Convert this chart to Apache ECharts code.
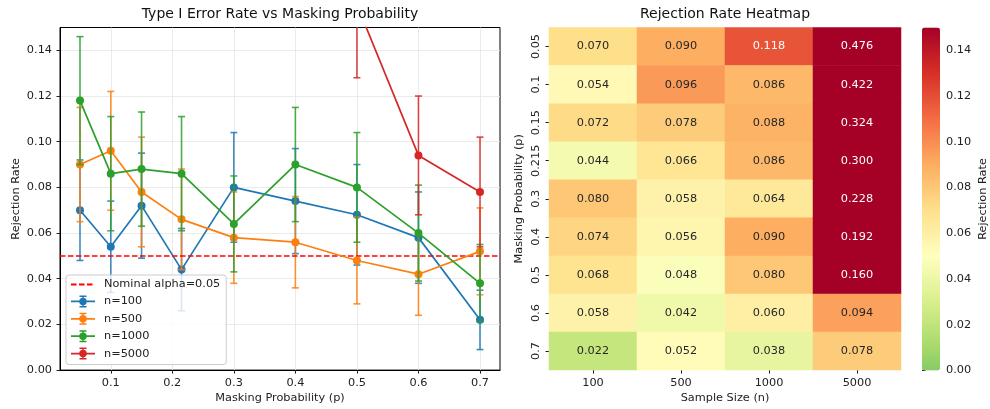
<!DOCTYPE html>
<html>
<head>
<meta charset="utf-8">
<script src="https://cdn.jsdelivr.net/npm/echarts@6/dist/echarts.min.js"></script>
<style>html,body{margin:0;padding:0;background:#fff;}#c{width:990px;height:409px;}</style>
</head>
<body>
<div id="c"></div>
<script>
// ---------------- data ----------------
const pValues = [0.05, 0.1, 0.15, 0.215, 0.3, 0.4, 0.5, 0.6, 0.7];
const pLabels = ['0.05', '0.1', '0.15', '0.215', '0.3', '0.4', '0.5', '0.6', '0.7'];
const sampleSizes = ['100', '500', '1000', '5000'];
const seriesNames = ['n=100', 'n=500', 'n=1000', 'n=5000'];

const rate100  = [0.070, 0.054, 0.072, 0.044, 0.080, 0.074, 0.068, 0.058, 0.022];
const rate500  = [0.090, 0.096, 0.078, 0.066, 0.058, 0.056, 0.048, 0.042, 0.052];
const rate1000 = [0.118, 0.086, 0.088, 0.086, 0.064, 0.090, 0.080, 0.060, 0.038];
const rate5000 = [0.476, 0.422, 0.324, 0.300, 0.228, 0.192, 0.160, 0.094, 0.078];

// error bar half-widths
const err100  = [0.022, 0.020, 0.023, 0.018, 0.024, 0.023, 0.022, 0.020, 0.013];
const err500  = [0.025, 0.026, 0.024, 0.022, 0.020, 0.020, 0.019, 0.018, 0.019];
const err1000 = [0.028, 0.025, 0.025, 0.025, 0.021, 0.025, 0.024, 0.021, 0.017];
const err5000 = [0.044, 0.043, 0.041, 0.040, 0.037, 0.035, 0.032, 0.026, 0.024];

const nominalAlpha = 0.05;
const xTicks = [0.1, 0.2, 0.3, 0.4, 0.5, 0.6, 0.7];
const yTicks = [0, 0.02, 0.04, 0.06, 0.08, 0.10, 0.12, 0.14];
const cbTicks = [0, 0.02, 0.04, 0.06, 0.08, 0.10, 0.12, 0.14];

// ---------------- styling ----------------
const FONT = 'DejaVu Sans';
const FS = 11.3;
const TXT = '#222';
const colors = ['#1f77b4', '#ff7f0e', '#2ca02c', '#d62728'];
const cmap = ['#86cb66', '#a6d96a', '#bfe47a', '#d9ef8b', '#ecf7a5', '#ffffbf', '#feefa5', '#fee08b',
              '#fdc776', '#fdae61', '#f88d52', '#f46d43', '#e54e35', '#d73027', '#be1826', '#a50026'];

const rates = [rate100, rate500, rate1000, rate5000];
const errs = [err100, err500, err1000, err5000];

const errIcon = 'path://M0 5.15H24V6.85H0Z M11.25 0H12.75V12H11.25Z M8.5 0H15.5V1.5H8.5Z M8.5 10.5H15.5V12H8.5Z M8.25 6A3.75 3.75 0 1 1 15.75 6A3.75 3.75 0 1 1 8.25 6Z';

function errRender(params, api) {
  const x = api.value(0), y = api.value(1), e = api.value(2);
  const cs = params.coordSys;
  const top = api.coord([x, y + e]);
  const bot = api.coord([x, y - e]);
  const px = top[0];
  const yTop = cs.y, yBot = cs.y + cs.height;
  const y1 = Math.max(top[1], yTop), y2 = Math.min(bot[1], yBot);
  if (y1 >= y2) return { type: 'group', children: [] };
  const st = { stroke: api.visual('color'), lineWidth: 1.6, opacity: 0.85 };
  const ch = [{ type: 'line', shape: { x1: px, y1: y1, x2: px, y2: y2 }, style: st }];
  const cw = 3.5;
  if (top[1] >= yTop) ch.push({ type: 'line', shape: { x1: px - cw, y1: top[1], x2: px + cw, y2: top[1] }, style: st });
  if (bot[1] <= yBot) ch.push({ type: 'line', shape: { x1: px - cw, y1: bot[1], x2: px + cw, y2: bot[1] }, style: st });
  return { type: 'group', children: ch };
}

const series = [];
rates.forEach((r, k) => {
  series.push({
    name: 'err ' + seriesNames[k],
    type: 'custom',
    xAxisIndex: 0, yAxisIndex: 0,
    renderItem: errRender,
    itemStyle: { color: colors[k] },
    encode: { x: 0, y: 1 },
    data: pValues.map((p, i) => [p, r[i], errs[k][i]]),
    z: 2 + k * 2,
    silent: true
  });
  series.push({
    name: seriesNames[k],
    type: 'line',
    xAxisIndex: 0, yAxisIndex: 0,
    data: pValues.map((p, i) => [p, r[i]]),
    symbol: 'circle',
    symbolSize: 8,
    showAllSymbol: true,
    clip: true,
    itemStyle: { color: colors[k] },
    lineStyle: { color: colors[k], width: 1.7 },
    z: 3 + k * 2,
    silent: true
  });
});
series.push({
  name: 'Nominal alpha=0.05',
  type: 'line',
  xAxisIndex: 0, yAxisIndex: 0,
  data: [],
  symbol: 'none',
  itemStyle: { color: '#ff0000' },
  lineStyle: { color: '#ff0000', width: 1.7, type: [5.5, 2.5] },
  markLine: {
    silent: true, symbol: 'none', label: { show: false },
    lineStyle: { color: '#ff0000', width: 1.7, type: [5.5, 2.5] },
    data: [{ yAxis: nominalAlpha }]
  },
  z: 12
});

const heatData = [];
rates.forEach((r, j) => {
  r.forEach((v, i) => {
    heatData.push({ value: [j, i, v], label: { color: v > 0.105 ? '#ffffff' : '#262626' } });
  });
});
const heatIndex = series.length;
series.push({
  name: 'heat',
  type: 'heatmap',
  xAxisIndex: 1, yAxisIndex: 1,
  data: heatData,
  label: { show: true, fontFamily: FONT, fontSize: FS, formatter: p => p.value[2].toFixed(3) },
  emphasis: { disabled: true },
  silent: true
});

const axisCommon = {
  axisLabel: { fontFamily: FONT, fontSize: FS, color: TXT },
  nameTextStyle: { fontFamily: FONT, fontSize: FS, color: TXT }
};

const option = {
  animation: false,
  backgroundColor: '#ffffff',
  textStyle: { fontFamily: FONT },
  title: [
    { text: 'Type I Error Rate vs Masking Probability', left: 280, top: 7, textAlign: 'center', padding: 0,
      textStyle: { fontFamily: FONT, fontSize: 14, fontWeight: 'normal', color: '#111' } },
    { text: 'Rejection Rate Heatmap', left: 725, top: 7, textAlign: 'center', padding: 0,
      textStyle: { fontFamily: FONT, fontSize: 14, fontWeight: 'normal', color: '#111' } }
  ],
  grid: [
    { left: 60, top: 27.5, width: 440, height: 343, show: true, borderColor: '#000', borderWidth: 1, backgroundColor: 'transparent' },
    { left: 549, top: 27.5, width: 352, height: 343 },
    { left: 922, top: 27.5, width: 18, height: 343 }
  ],
  legend: {
    left: 66, top: 275, orient: 'vertical',
    padding: [4, 6, 5, 4],
    itemWidth: 24, itemHeight: 12, itemGap: 5.4,
    borderColor: '#cccccc', borderWidth: 1, borderRadius: 3,
    backgroundColor: 'rgba(255,255,255,0.8)',
    textStyle: { fontFamily: FONT, fontSize: FS, color: TXT, padding: [0, 0, 0, 4] },
    data: [
      { name: 'Nominal alpha=0.05', itemStyle: { opacity: 0 } },
      { name: 'n=100', icon: errIcon },
      { name: 'n=500', icon: errIcon },
      { name: 'n=1000', icon: errIcon },
      { name: 'n=5000', icon: errIcon }
    ],
    selectedMode: false
  },
  visualMap: {
    type: 'continuous',
    seriesIndex: heatIndex,
    dimension: 2,
    min: 0, max: 0.15,
    calculable: false,
    left: 922, top: 27.5,
    itemWidth: 18, itemHeight: 343,
    padding: 0,
    text: null,
    showLabel: false,
    inRange: { color: cmap },
    hoverLink: false
  },
  xAxis: [
    Object.assign({}, axisCommon, {
      gridIndex: 0, type: 'value', min: 0.0175, max: 0.7325,
      name: 'Masking Probability (p)', nameLocation: 'middle', nameGap: 21,
      axisLine: { show: true, lineStyle: { color: '#000', width: 1 } },
      axisTick: { show: true, length: 3.5, lineStyle: { color: '#222' }, customValues: xTicks },
      axisLabel: Object.assign({}, axisCommon.axisLabel, { margin: 7, customValues: xTicks, formatter: v => String(+v.toFixed(2)) }),
      splitLine: { show: true, lineStyle: { color: '#e6e6e6', width: 0.8 } }
    }),
    Object.assign({}, axisCommon, {
      gridIndex: 1, type: 'category', data: sampleSizes,
      name: 'Sample Size (n)', nameLocation: 'middle', nameGap: 21,
      axisLine: { show: false },
      axisTick: { show: true, alignWithLabel: true, length: 3.5, lineStyle: { color: '#222' } },
      axisLabel: Object.assign({}, axisCommon.axisLabel, { margin: 7, interval: 0 }),
      splitLine: { show: false }
    }),
    { gridIndex: 2, type: 'value', show: false, min: 0, max: 1 }
  ],
  yAxis: [
    Object.assign({}, axisCommon, {
      gridIndex: 0, type: 'value', min: 0, max: 0.15,
      name: 'Rejection Rate', nameLocation: 'middle', nameGap: 38,
      axisLine: { show: true, lineStyle: { color: '#000', width: 1 } },
      axisTick: { show: true, length: 3.5, lineStyle: { color: '#222' }, customValues: yTicks },
      axisLabel: Object.assign({}, axisCommon.axisLabel, { margin: 8, customValues: yTicks, formatter: v => v.toFixed(2) }),
      splitLine: { show: true, lineStyle: { color: '#e6e6e6', width: 0.8 } }
    }),
    Object.assign({}, axisCommon, {
      gridIndex: 1, type: 'category', data: pLabels, inverse: true,
      name: 'Masking Probability (p)', nameLocation: 'middle', nameGap: 24,
      axisLine: { show: false },
      axisTick: { show: true, alignWithLabel: true, interval: 0, length: 3.5, lineStyle: { color: '#222' } },
      axisLabel: Object.assign({}, axisCommon.axisLabel, { margin: 7, rotate: 90, interval: 0 }),
      splitLine: { show: false }
    }),
    Object.assign({}, axisCommon, {
      gridIndex: 2, type: 'value', min: 0, max: 0.15, position: 'right',
      name: 'Rejection Rate', nameLocation: 'middle', nameGap: 38, nameRotate: 90,
      axisLine: { show: false },
      axisTick: { show: true, length: 3.5, lineStyle: { color: '#222' }, customValues: cbTicks },
      axisLabel: Object.assign({}, axisCommon.axisLabel, { margin: 6, customValues: cbTicks, formatter: v => v.toFixed(2) }),
      splitLine: { show: false }
    })
  ],
  series: series
};

const chart = echarts.init(document.getElementById('c'), null, { renderer: 'canvas' });
chart.setOption(option);
</script>
</body>
</html>
